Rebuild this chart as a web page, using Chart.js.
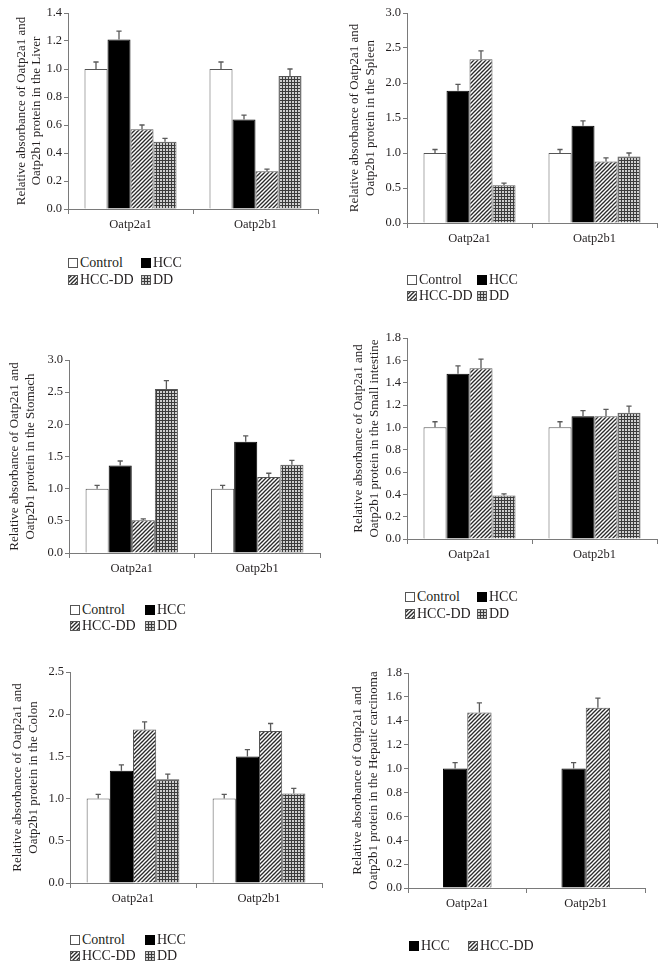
<!DOCTYPE html>
<html><head><meta charset="utf-8">
<script src="https://cdn.jsdelivr.net/npm/chart.js@4.4.1/dist/chart.umd.min.js"></script>
<style>
body{margin:0;background:#fff;width:665px;height:969px;position:relative;overflow:hidden;font-family:"Liberation Serif","DejaVu Serif",serif;color:#231f20}
canvas.c{position:absolute}
.lg{position:absolute;font-size:14px;line-height:16px;white-space:nowrap;display:flex;align-items:center;color:#231f20}
.lg canvas{width:10px;height:10px;margin-right:2px;display:block}
</style></head><body>
<script>
// ---------------- DATA ----------------
const categories = ['Oatp2a1', 'Oatp2b1'];
const seriesNames = ['Control', 'HCC', 'HCC-DD', 'DD'];
const hepaticSeries = ['HCC', 'HCC-DD'];

// means per series: [Oatp2a1, Oatp2b1]
const liverMean   = [[1.00, 1.00], [1.21, 0.64], [0.57, 0.27], [0.48, 0.95]];
const liverErr    = [[0.05, 0.05], [0.06, 0.03], [0.03, 0.015], [0.025, 0.05]];
const spleenMean  = [[1.00, 1.00], [1.89, 1.39], [2.34, 0.88], [0.54, 0.95]];
const spleenErr   = [[0.05, 0.05], [0.09, 0.07], [0.12, 0.05], [0.03, 0.05]];
const stomachMean = [[1.00, 1.00], [1.36, 1.73], [0.51, 1.18], [2.55, 1.37]];
const stomachErr  = [[0.05, 0.05], [0.07, 0.09], [0.02, 0.06], [0.13, 0.07]];
const intestineMean = [[1.00, 1.00], [1.48, 1.10], [1.53, 1.10], [0.39, 1.13]];
const intestineErr  = [[0.05, 0.05], [0.07, 0.05], [0.08, 0.06], [0.015, 0.06]];
const colonMean   = [[1.00, 1.00], [1.33, 1.50], [1.82, 1.80], [1.23, 1.06]];
const colonErr    = [[0.05, 0.05], [0.07, 0.08], [0.09, 0.09], [0.06, 0.06]];
const hepaticMean = [[1.00, 1.00], [1.47, 1.51]];
const hepaticErr  = [[0.05, 0.05], [0.08, 0.08]];

// y axis: max and step per panel
const yMax  = [1.4, 3.0, 3.0, 1.8, 2.5, 1.8];
const yStep = [0.2, 0.5, 0.5, 0.2, 0.5, 0.2];
const organs = ['Liver', 'Spleen', 'Stomach', 'Small intestine', 'Colon', 'Hepatic carcinoma'];

// ---------------- STYLES ----------------
const TXT = '#231f20', AX = '#7a7a7a', EDGE = '#555';
function tile(kind) {
  const c = document.createElement('canvas');
  if (kind === 'hatch') {
    c.width = 4; c.height = 4;
    const g = c.getContext('2d');
    g.fillStyle = '#fff'; g.fillRect(0, 0, 4, 4);
    g.strokeStyle = '#2a2a2a'; g.lineWidth = 1.3;
    [[-1, 5, 5, -1], [-1, 1, 1, -1], [3, 5, 5, 3]].forEach(([a, b, cc, d]) => {
      g.beginPath(); g.moveTo(a, b); g.lineTo(cc, d); g.stroke();
    });
  } else {
    c.width = 3; c.height = 3;
    const g = c.getContext('2d');
    g.fillStyle = '#cfcfcf'; g.fillRect(0, 0, 3, 3);
    g.fillStyle = '#3c3c3c'; g.fillRect(0, 0, 3, 1); g.fillRect(0, 0, 1, 3);
  }
  return c;
}
function fillFor(name, ctx) {
  if (name === 'Control') return '#ffffff';
  if (name === 'HCC') return '#000000';
  return ctx.createPattern(tile(name === 'HCC-DD' ? 'hatch' : 'grid'), 'repeat');
}
function edgeFor(name) { return name === 'HCC' ? '#000' : EDGE; }

const errorBars = {
  id: 'errorBars',
  afterDatasetsDraw(chart) {
    const g = chart.ctx, y = chart.scales.y;
    chart.data.datasets.forEach((ds, i) => {
      const meta = chart.getDatasetMeta(i);
      meta.data.forEach((el, j) => {
        const v = ds.data[j], e = ds.errors[j];
        const yt = y.getPixelForValue(v + e), yb = y.getPixelForValue(v);
        g.save();
        g.strokeStyle = '#5a5a5a'; g.lineWidth = 1.3;
        g.beginPath(); g.moveTo(el.x, yb); g.lineTo(el.x, yt);
        g.moveTo(el.x - 2.6, yt); g.lineTo(el.x + 2.6, yt); g.stroke();
        g.restore();
      });
    });
  }
};

// ---------------- LAYOUT ----------------
const panels = [
  {mean: liverMean, err: liverErr, names: seriesNames, L: 68, T: 13, B: 209, R: 318, cx: 0, tp: 13.5, catPct: 0.736, lgY: [263, 280], cols: [68, 141]},
  {mean: spleenMean, err: spleenErr, names: seriesNames, L: 407, T: 13, B: 223, R: 657, cx: 333, tp: 14, catPct: 0.736, lgY: [280, 296], cols: [407, 477]},
  {mean: stomachMean, err: stomachErr, names: seriesNames, L: 69, T: 360, B: 553, R: 320, cx: 0, tp: 7, catPct: 0.736, lgY: [610, 626], cols: [70, 145]},
  {mean: intestineMean, err: intestineErr, names: seriesNames, L: 407, T: 338, B: 539, R: 657, cx: 333, tp: 18, catPct: 0.736, lgY: [597, 614], cols: [405, 477]},
  {mean: colonMean, err: colonErr, names: seriesNames, L: 70, T: 672, B: 883, R: 322, cx: 0, tp: 10, catPct: 0.736, lgY: [940, 956], cols: [70, 145]},
  {mean: hepaticMean, err: hepaticErr, names: hepaticSeries, L: 408, T: 673, B: 888, R: 645, cx: 333, tp: 17, catPct: 0.41, lgY: [946], cols: [409, 468]}
];

const FONT = '"Liberation Serif", "DejaVu Serif", serif';
const PADTOP = 12, XAXH = 30, CW = 332;

panels.forEach((p, k) => {
  const cv = document.createElement('canvas');
  cv.className = 'c';
  const ch = (p.B - p.T) + PADTOP + XAXH;
  cv.width = CW; cv.height = ch;
  cv.style.left = p.cx + 'px'; cv.style.top = (p.T - PADTOP) + 'px';
  cv.style.width = CW + 'px'; cv.style.height = ch + 'px';
  document.body.appendChild(cv);
  const ctx = cv.getContext('2d');

  const datasets = p.names.map((n, i) => ({
    label: n, data: p.mean[i], errors: p.err[i],
    backgroundColor: fillFor(n, ctx), borderColor: edgeFor(n), borderWidth: 1,
    barPercentage: 1.0, categoryPercentage: p.catPct, borderSkipped: 'bottom'
  }));

  new Chart(cv, {
    type: 'bar',
    data: {labels: categories, datasets},
    options: {
      responsive: false, animation: false, devicePixelRatio: 1,
      layout: {padding: {top: PADTOP, left: 0, bottom: 0, right: p.cx + CW - p.R}},
      plugins: {legend: {display: false}, tooltip: {enabled: false}},
      scales: {
        x: {
          afterFit: s => { s.height = XAXH; },
          grid: {display: true, drawOnChartArea: false, drawTicks: true, tickLength: 5, color: AX, offset: true},
          border: {display: true, color: AX, width: 1},
          ticks: {color: TXT, font: {family: FONT, size: 12.5}, padding: 3}
        },
        y: {
          min: 0, max: yMax[k],
          afterFit: s => { s.width = p.L - p.cx; },
          grid: {display: true, drawOnChartArea: false, drawTicks: true, tickLength: 4, color: AX},
          border: {display: true, color: AX, width: 1},
          ticks: {stepSize: yStep[k], color: TXT, font: {family: FONT, size: 12.5}, padding: 2,
                  callback: v => Number(v).toFixed(1)},
          title: {display: true, color: TXT, font: {family: FONT, size: 13, lineHeight: 1.2},
                  padding: {top: p.tp, bottom: 0},
                  text: ['Relative absorbance of Oatp2a1 and', 'Oatp2b1 protein in the ' + organs[k]]}
        }
      }
    },
    plugins: [errorBars]
  });

  // HTML legend (two columns)
  p.names.forEach((n, i) => {
    const row = Math.floor(i / 2), col = i % 2;
    const d = document.createElement('div');
    d.className = 'lg';
    d.style.left = p.cols[col] + 'px';
    d.style.top = (p.lgY[row] - 8) + 'px';
    const sw = document.createElement('canvas');
    sw.width = 10; sw.height = 10;
    const g = sw.getContext('2d');
    g.fillStyle = fillFor(n, g); g.fillRect(0, 0, 10, 10);
    g.strokeStyle = edgeFor(n); g.lineWidth = 1; g.strokeRect(0.5, 0.5, 9, 9);
    d.appendChild(sw);
    const t = document.createElement('span'); t.textContent = n;
    d.appendChild(t);
    document.body.appendChild(d);
  });
});
</script>
</body></html>
